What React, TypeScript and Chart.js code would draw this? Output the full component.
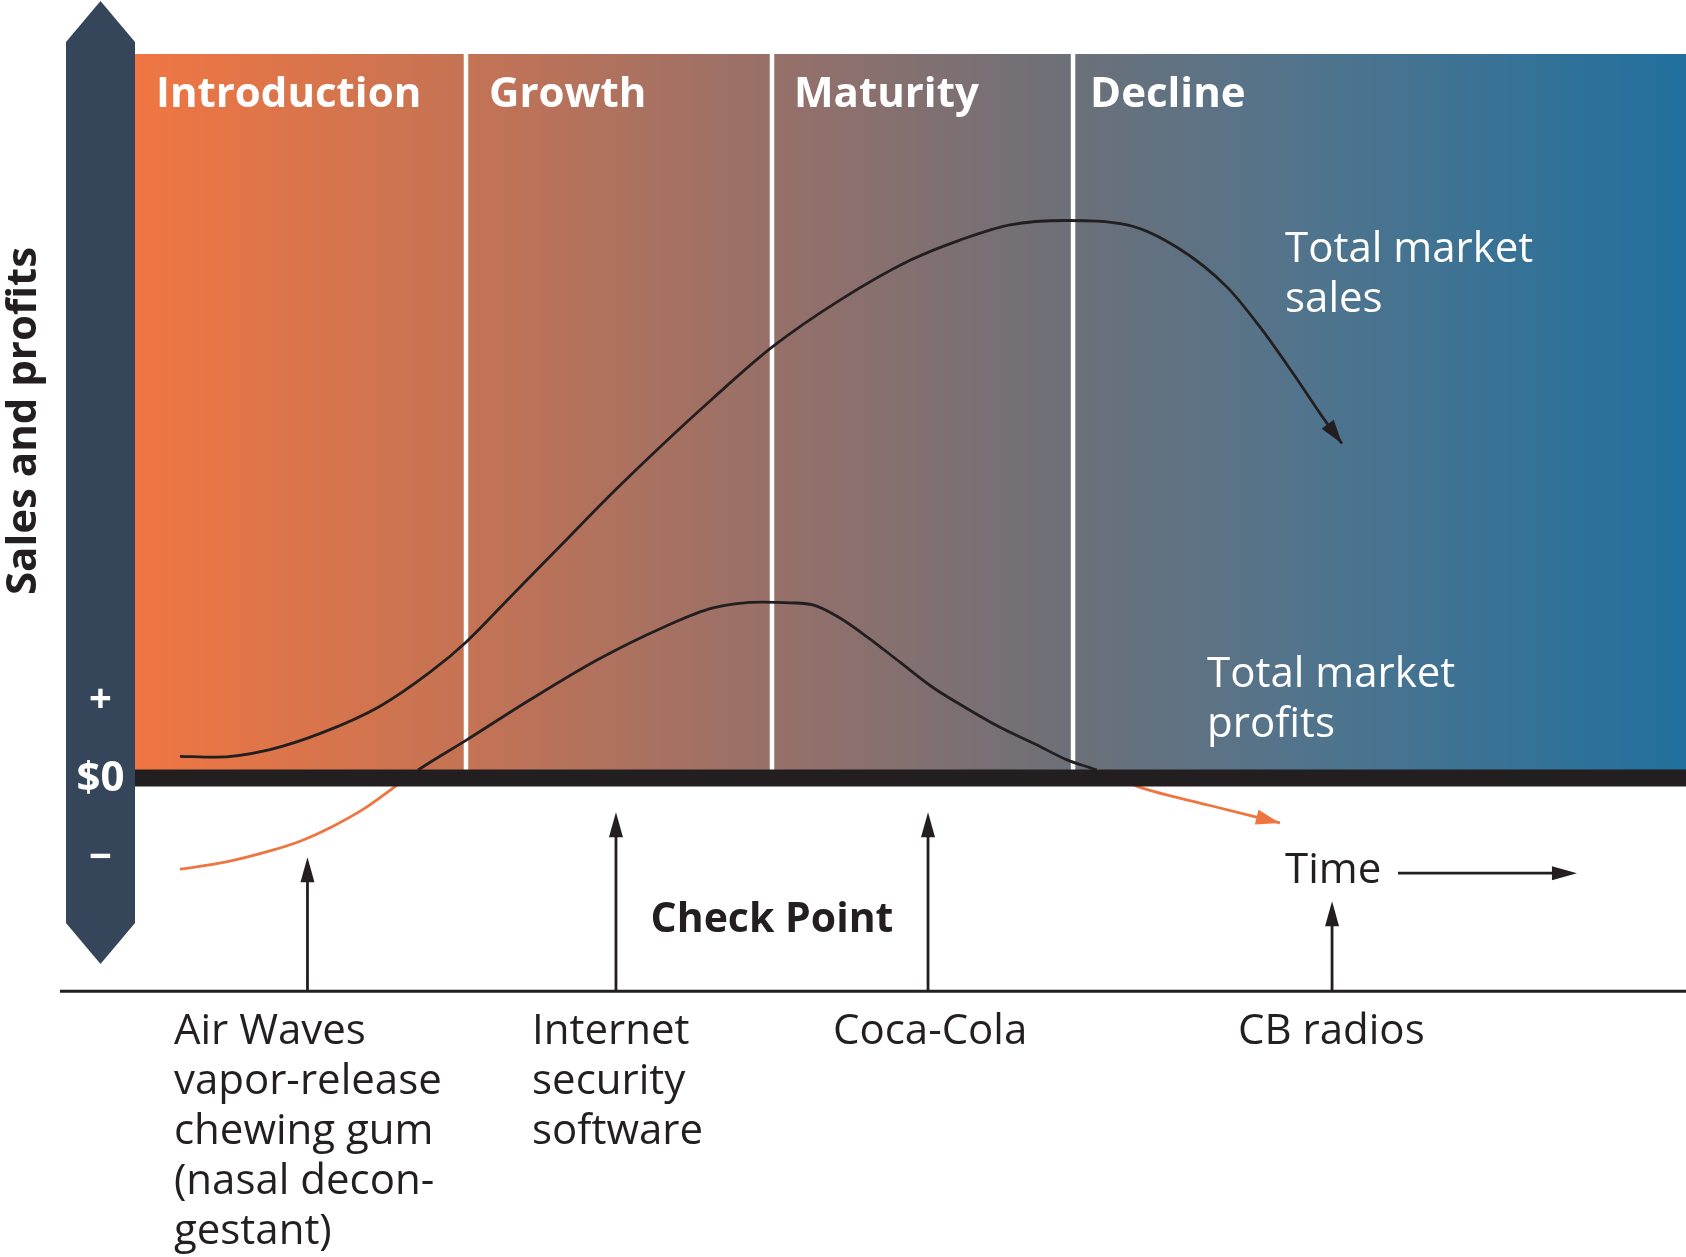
import React, { useEffect, useRef } from "react";
import { Chart, registerables } from "chart.js";

Chart.register(...registerables);

// ---- Data (time units 0–100, money units: $0 = 0) ----
const salesTime = [2.9, 5.16, 8.64, 12.12, 15.8, 19.02, 21.34, 24.37, 27.59, 30.82, 34.04, 37.27, 41.07, 45.45, 49.97, 53.19, 56.42, 60.09, 63.96, 67.18, 70.41, 72.53, 74.66, 76.85, 77.82];
const salesValues = [3.0, 2.87, 3.9, 6.3, 9.92, 14.61, 18.76, 25.39, 32.43, 39.47, 46.11, 52.46, 59.5, 66.0, 71.5, 74.3, 76.4, 77.0, 76.4, 73.3, 67.8, 62.3, 55.9, 49.0, 46.2];

const profitTime = [2.9, 5.8, 8.64, 10.64, 12.77, 14.83, 16.63, 18.25, 21.34, 25.47, 29.79, 34.04, 37.27, 40.49, 42.23, 43.71, 45.45, 47.2, 49.32, 51.45, 53.64, 55.77, 58.03, 60.09, 62.02, 63.51, 64.8, 69.31, 73.82];
const profitValues = [-12.6, -11.63, -10.11, -8.73, -6.66, -4.17, -1.41, 1.1, 5.2, 10.8, 16.3, 20.8, 23.5, 24.3, 24.2, 23.9, 22.1, 19.5, 16.0, 12.5, 9.6, 7.0, 4.7, 2.5, 1.1, -0.2, -1.3, -3.8, -6.2];

const stageNames = ["Introduction", "Growth", "Maturity", "Decline"];
const stageStarts = [0, 21.34, 41.07, 60.48];
const stageLabelY = 92.65;

const axisMarks = ["+", "$0", "−"];
const axisMarkValues = [10.75, 0, -11.07];

const checkpointTimes = [11.12, 31.01, 51.13, 77.18];
const checkpointTips = [-10.94, -4.72, -4.72, -17.02];
const checkpointBase = -29.45;
const checkpointLabels = [
  ["Air Waves", "vapor-release", "chewing gum", "(nasal decon-", "gestant)"],
  ["Internet", "security", "software"],
  ["Coca-Cola"],
  ["CB radios"],
];
const checkpointLabelX = [2.51, 25.6, 45.0, 71.12];
const checkpointLabelY = -36.78;

const salesLabel = ["Total market", "sales"];
const salesLabelPos = [74.15, 71.24];
const profitLabel = ["Total market", "profits"];
const profitLabelPos = [69.12, 12.54];
const timeLabel = "Time";
const timeLabelPos = [74.15, -14.53];
const timeArrow = [81.43, 92.97, -13.15];
const checkPointTitle = "Check Point";
const checkPointTitlePos = [41.07, -21.3];
const yTitle = "Sales and profits";

const ORANGE = "#EF7540";
const INK = "#231F20";
const BAR = "#35465A";
const FONT = '"Open Sans", "Noto Sans", sans-serif';
const STAGE_LABEL_NUDGE = [21, 23, 22, 17];

function arrowHead(ctx: CanvasRenderingContext2D, x0: number, y0: number, x1: number, y1: number, len: number, half: number, color: string) {
  const a = Math.atan2(y1 - y0, x1 - x0);
  ctx.save();
  ctx.translate(x1, y1);
  ctx.rotate(a);
  ctx.beginPath();
  ctx.moveTo(0, 0);
  ctx.lineTo(-len, -half);
  ctx.lineTo(-len, half);
  ctx.closePath();
  ctx.fillStyle = color;
  ctx.fill();
  ctx.restore();
}

const diagramPlugin = {
  id: "diagram",
  beforeDatasetsDraw(chart: any) {
    const { ctx, chartArea, scales } = chart;
    const X = (v: number) => scales.x.getPixelForValue(v);
    const Y = (v: number) => scales.y.getPixelForValue(v);
    const zero = Y(0);
    ctx.save();
    const g = ctx.createLinearGradient(chartArea.left, 0, chartArea.right, 0);
    g.addColorStop(0, "#F07642");
    g.addColorStop(0.213, "#C57354");
    g.addColorStop(0.411, "#977069");
    g.addColorStop(0.605, "#6C7079");
    g.addColorStop(0.75, "#52748C");
    g.addColorStop(1, "#21709E");
    ctx.fillStyle = g;
    ctx.fillRect(chartArea.left, chartArea.top, chartArea.right - chartArea.left, zero - chartArea.top);
    ctx.strokeStyle = "#FFFFFF";
    ctx.lineWidth = 4.5;
    for (let i = 1; i < stageStarts.length; i++) {
      const x = X(stageStarts[i]);
      ctx.beginPath();
      ctx.moveTo(x, chartArea.top);
      ctx.lineTo(x, zero);
      ctx.stroke();
    }
    ctx.fillStyle = "#FFFFFF";
    ctx.font = `bold 42px ${FONT}`;
    ctx.textBaseline = "alphabetic";
    ctx.textAlign = "left";
    stageNames.forEach((n, i) => ctx.fillText(n, X(stageStarts[i]) + STAGE_LABEL_NUDGE[i], Y(stageLabelY)));
    const bl = 66, br = 135, bc = (bl + br) / 2;
    ctx.fillStyle = BAR;
    ctx.beginPath();
    ctx.moveTo(bl, 42);
    ctx.lineTo(bc, 1);
    ctx.lineTo(br, 42);
    ctx.lineTo(br, 923);
    ctx.lineTo(bc, 964);
    ctx.lineTo(bl, 923);
    ctx.closePath();
    ctx.fill();
    ctx.fillStyle = "#FFFFFF";
    ctx.textAlign = "center";
    ctx.textBaseline = "middle";
    axisMarks.forEach((m, i) => {
      ctx.font = i === 1 ? `bold 42px ${FONT}` : `bold 40px ${FONT}`;
      ctx.fillText(m, bc, Y(axisMarkValues[i]) + (i === 1 ? 1 : 0));
    });
    ctx.save();
    ctx.translate(24, 421);
    ctx.rotate(-Math.PI / 2);
    ctx.fillStyle = INK;
    ctx.font = `bold 42px ${FONT}`;
    ctx.textAlign = "center";
    ctx.textBaseline = "middle";
    ctx.fillText(yTitle, 0, 0);
    ctx.restore();
    ctx.restore();
  },
  afterDatasetsDraw(chart: any) {
    const { ctx, chartArea, scales } = chart;
    const X = (v: number) => scales.x.getPixelForValue(v);
    const Y = (v: number) => scales.y.getPixelForValue(v);
    const zero = Y(0);
    ctx.save();
    ctx.fillStyle = INK;
    ctx.fillRect(chartArea.left, zero - 8.5, chartArea.right - chartArea.left, 17);
    [0, 1].forEach((di) => {
      const pts = chart.getDatasetMeta(di).data;
      const last = pts[pts.length - 1];
      const prev = pts[pts.length - 2];
      const fx = last.cp1x ?? prev.x;
      const fy = last.cp1y ?? prev.y;
      arrowHead(ctx, fx, fy, last.x, last.y, 24, 7.5, di === 0 ? INK : ORANGE);
    });
    ctx.strokeStyle = INK;
    ctx.lineWidth = 3;
    ctx.beginPath();
    ctx.moveTo(60, Y(checkpointBase));
    ctx.lineTo(chartArea.right, Y(checkpointBase));
    ctx.stroke();
    ctx.lineWidth = 2.8;
    checkpointTimes.forEach((t, i) => {
      const x = X(t);
      const yb = Y(checkpointBase);
      const yt = Y(checkpointTips[i]);
      ctx.beginPath();
      ctx.moveTo(x, yb);
      ctx.lineTo(x, yt + 20);
      ctx.stroke();
      arrowHead(ctx, x, yb, x, yt, 25, 7, INK);
    });
    ctx.beginPath();
    ctx.moveTo(X(timeArrow[0]), Y(timeArrow[2]));
    ctx.lineTo(X(timeArrow[1]) - 20, Y(timeArrow[2]));
    ctx.stroke();
    arrowHead(ctx, X(timeArrow[0]), Y(timeArrow[2]), X(timeArrow[1]), Y(timeArrow[2]), 25, 7, INK);
    ctx.textBaseline = "alphabetic";
    ctx.textAlign = "left";
    ctx.font = `42px ${FONT}`;
    ctx.fillStyle = "#FFFFFF";
    salesLabel.forEach((l, i) => ctx.fillText(l, X(salesLabelPos[0]), Y(salesLabelPos[1]) + i * 50));
    profitLabel.forEach((l, i) => ctx.fillText(l, X(profitLabelPos[0]), Y(profitLabelPos[1]) + i * 50));
    ctx.fillStyle = INK;
    ctx.fillText(timeLabel, X(timeLabelPos[0]), Y(timeLabelPos[1]));
    checkpointLabels.forEach((lines, i) => {
      lines.forEach((l, j) => ctx.fillText(l, X(checkpointLabelX[i]), Y(checkpointLabelY) + j * 50));
    });
    ctx.font = `bold 41px ${FONT}`;
    ctx.textAlign = "center";
    ctx.fillText(checkPointTitle, X(checkPointTitlePos[0]), Y(checkPointTitlePos[1]));
    ctx.restore();
  },
};

export default function App() {
  const ref = useRef<HTMLCanvasElement | null>(null);
  useEffect(() => {
    if (!ref.current) return;
    const chart = new Chart(ref.current, {
      type: "line",
      data: {
        datasets: [
          {
            label: "Total market sales",
            data: salesTime.map((t, i) => ({ x: t, y: salesValues[i] })),
            borderColor: INK,
            borderWidth: 2.8,
            cubicInterpolationMode: "monotone",
            pointRadius: 0,
            fill: false,
            clip: false as any,
          },
          {
            label: "Total market profits",
            data: profitTime.map((t, i) => ({ x: t, y: profitValues[i] })),
            borderColor: INK,
            borderWidth: 2.8,
            cubicInterpolationMode: "monotone",
            pointRadius: 0,
            fill: false,
            clip: false as any,
            segment: {
              borderColor: (c: any) => (c.p0.parsed.y < 0 || c.p1.parsed.y < 0 ? ORANGE : INK),
            },
          },
        ],
      },
      options: {
        responsive: false,
        animation: false,
        devicePixelRatio: 1,
        events: [],
        layout: { padding: { left: 135, right: 0, top: 54, bottom: 261.8 } },
        scales: {
          x: { type: "linear", min: 0, max: 100, display: false },
          y: { type: "linear", min: -30, max: 100, display: false },
        },
        plugins: { legend: { display: false }, tooltip: { enabled: false } },
      },
      plugins: [diagramPlugin],
    });
    return () => chart.destroy();
  }, []);
  return (
    <div style={{ position: "absolute", left: 0, top: 0, width: 1686, height: 1257, background: "#fff" }}>
      <canvas ref={ref} width={1686} height={1257} style={{ display: "block", width: 1686, height: 1257 }} />
    </div>
  );
}
